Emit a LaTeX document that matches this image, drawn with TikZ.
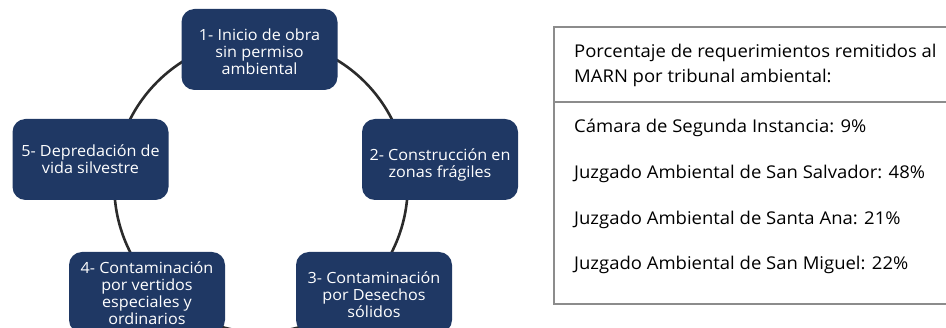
\documentclass[tikz,border=0pt]{standalone}
\usepackage{fontspec}
\setmainfont{Open Sans}[FakeStretch=1.05]
\definecolor{navy}{HTML}{1F3864}
\definecolor{ringc}{HTML}{2B2B2B}
\definecolor{rule}{HTML}{8C8C8C}
\begin{document}
\begin{tikzpicture}[x=1pt,y=-1pt,
  stepbox/.style={fill=navy, rounded corners=13pt, minimum width=156pt, minimum height=81pt, inner sep=0pt},
  steptext/.style={text=white, align=center, inner sep=0pt, font=\fontsize{15.4}{17}\selectfont},
  tabtext/.style={anchor=base west, inner sep=0pt, font=\fontsize{17.6}{25}\selectfont, text=black},
  tabrule/.style={draw=rule, line width=1.4pt}]
\useasboundingbox (0,0) rectangle (946,328);
\begin{scope}
\clip (0,0) rectangle (946,328);
\coordinate (cc) at (261,185.6);
\draw[ringc, line width=2.6pt] (cc) circle[radius=146.7pt];
\node[stepbox] (b1) at (259.5,49.5) {};
\node[stepbox] (b2) at (440,159.5) {};
\node[stepbox] (b3) at (374,292.5) {};
\node[stepbox] (b4) at (147,292.5) {};
\node[stepbox] (b5) at (90.5,159.5) {};
\node[steptext] (l1) at ([yshift=-2pt]b1.center) {1- Inicio de obra\\sin permiso\\ambiental};
\node[steptext] (l2) at ([yshift=-5pt]b2.center) {2- Construcción en\\zonas frágiles};
\node[steptext] (l3) at ([yshift=-2.5pt]b3.center) {3- Contaminación\\por Desechos\\sólidos};
\node[steptext] (l4) at ([yshift=-0.5pt]b4.center) {4- Contaminación\\por vertidos\\especiales y\\ordinarios};
\node[steptext] (l5) at (b5.center) {5- Depredación de\\vida silvestre};
\end{scope}
% table
\coordinate (t1) at (554,27);
\coordinate (t2) at (946,27);
\coordinate (m1) at (554,102);
\coordinate (m2) at (946,102);
\coordinate (u1) at (554,304);
\coordinate (u2) at (946,304);
\draw[tabrule] (t2) -- (t1) -- (u1) -- (u2);
\draw[tabrule] (m1) -- (m2);
\node[tabtext] (h1) at (574,58) {Porcentaje de requerimientos remitidos al};
\node[tabtext] (h2) at (574,83) {MARN por tribunal ambiental:};
\node[tabtext] (r1) at (574,133) {Cámara de Segunda Instancia: 9\%};
\node[tabtext] (r2) at (574,178.5) {Juzgado Ambiental de San Salvador: 48\%};
\node[tabtext] (r3) at (574,224.3) {Juzgado Ambiental de Santa Ana: 21\%};
\node[tabtext] (r4) at (574,270) {Juzgado Ambiental de San Miguel: 22\%};
\end{tikzpicture}
\end{document}
